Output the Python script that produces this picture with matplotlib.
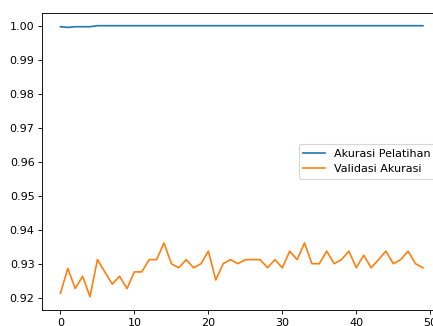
import matplotlib
matplotlib.use("Agg")
import matplotlib.pyplot as plt

# riwayat akurasi per epoch
epoch = list(range(50))
akurasi_latih = [0.9997, 0.9995, 0.9997, 0.9997, 0.9997] + [1.0] * 45
akurasi_val = [
    0.9213, 0.9286, 0.9227, 0.9263, 0.9203, 0.9312, 0.9276, 0.9240, 0.9263, 0.9227,
    0.9276, 0.9276, 0.9312, 0.9312, 0.9361, 0.9300, 0.9288, 0.9312, 0.9288, 0.9300,
    0.9337, 0.9252, 0.9300, 0.9312, 0.9300, 0.9312, 0.9312, 0.9312, 0.9288, 0.9312,
    0.9288, 0.9337, 0.9312, 0.9361, 0.9300, 0.9300, 0.9337, 0.9300, 0.9312, 0.9337,
    0.9288, 0.9325, 0.9288, 0.9312, 0.9337, 0.9300, 0.9312, 0.9337, 0.9300, 0.9288,
]

fig = plt.figure(figsize=(433 / 80, 326 / 80), dpi=80)
ax = fig.add_axes([0.0977, 0.049, 0.9208, 0.912])

ax.plot(epoch, akurasi_latih, label="Akurasi Pelatihan")
ax.plot(epoch, akurasi_val, label="Validasi Akurasi")
ax.set_ylim(0.91638, 1.00382)
ax.legend(loc="center right")

fig.savefig("out.png", dpi=80)
